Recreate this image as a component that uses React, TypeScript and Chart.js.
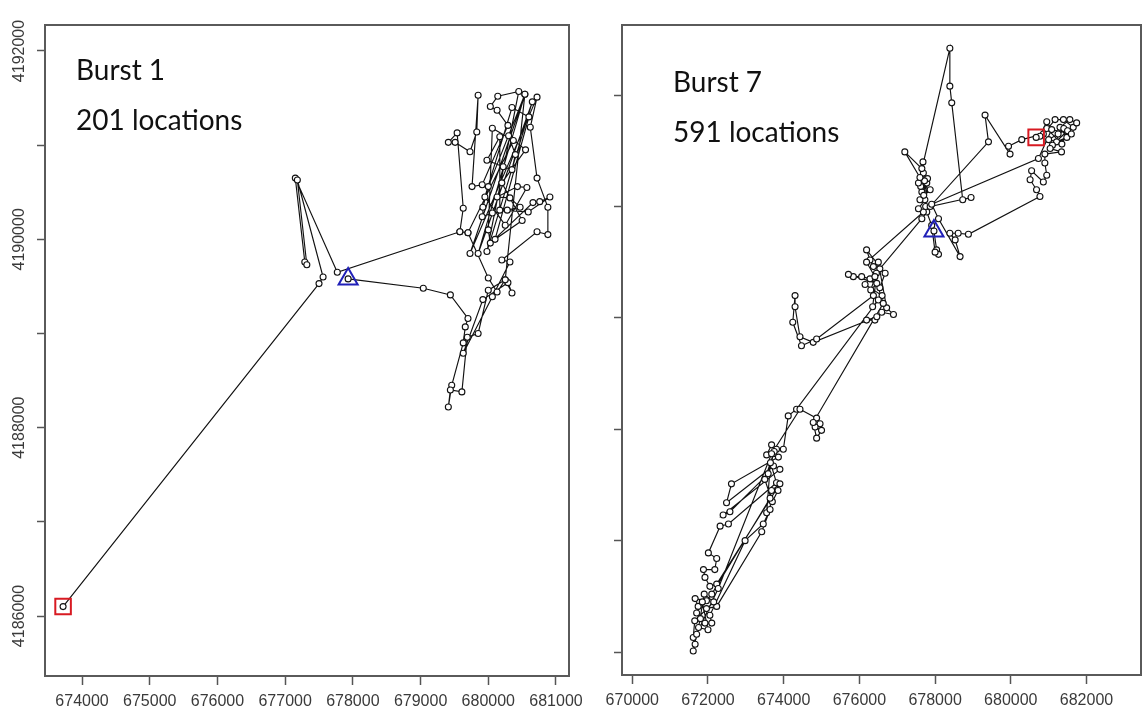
import React, { useEffect, useRef } from "react";
import { Chart, registerables } from "chart.js";

Chart.register(...registerables);

// ---------- Burst 1 ----------
const burst1X = [677930, 679040, 679440, 679700, 679660, 679630, 679460, 679410, 679440, 679610,
  679690, 679850, 680000, 680250, 680350, 680290, 679920, 679630, 680060, 680320,
  680200, 680720, 680880, 680880, 680720, 680620, 680720, 679730, 680540, 679850,
  680650, 679980, 680450, 680140, 680030, 680130, 680290, 679910, 679760, 679850,
  679830, 679730, 679510, 679410, 679540, 679630, 679580, 679700, 680370, 680060,
  680000, 680030, 680660, 680760, 680910, 680590, 680170, 680170, 679980, 680220,
  680350,
  680400, 680300, 680550, 680200, 680500, 680100, 680600, 680350, 679950, 680250,
  680570, 680430, 680130, 680320, 680470, 680280, 680060, 679910, 679920,
  680000, 680540, 680250, 680130, 680000, 679700, 679580, 677770, 677150, 677290,
  677320, 677180, 677560, 677500, 673720];
const burst1Y = [4189580, 4189480, 4189410, 4189160, 4189070, 4188900, 4188450, 4188220, 4188400, 4188380,
  4188960, 4189000, 4189460, 4189570, 4189430, 4189540, 4189360, 4188790, 4189390, 4189760,
  4189780, 4190080, 4190050, 4190340, 4190650, 4191190, 4191510, 4189850, 4191540, 4189850,
  4191460, 4189870, 4191570, 4191520, 4191410, 4191370, 4191210, 4190580, 4190560, 4191530,
  4191140, 4190930, 4191030, 4191030, 4191130, 4190330, 4190080, 4190070, 4191050, 4191180,
  4190100, 4189960, 4190390, 4190400, 4190450, 4190290, 4190310, 4191090, 4190840, 4190770,
  4190740,
  4190900, 4191100, 4190950, 4190600, 4190200, 4190000, 4191300, 4191400, 4190450, 4190150,
  4190550, 4190560, 4190450, 4190440, 4190340, 4190310, 4190280, 4190240, 4190340,
  4190560, 4191540, 4189570, 4189440, 4189590, 4190070, 4190080, 4189650, 4190650, 4189760,
  4189730, 4190630, 4189600, 4189530, 4186100];
const burst1XTicks = [674000, 675000, 676000, 677000, 678000, 679000, 680000, 681000];
const burst1YTicks = [4186000, 4187000, 4188000, 4189000, 4190000, 4191000, 4192000];
const burst1YLabels = ["4186000", "", "4188000", "", "4190000", "", "4192000"];
const burst1Text = ["Burst 1", "201 locations"];

// ---------- Burst 7 ----------
const burst7X = [677970, 678040, 678090, 678000, 677910, 677780, 677650, 676540, 676370, 676280,
  676190, 676680, 676540, 676280, 676060, 675840, 675710, 676460,
  676300, 676450, 676150, 676600, 676350, 676500,
  676720, 676900, 676590, 676410, 676190, 676460, 674780, 674430, 674300, 674300, 674240, 674470,
  674870, 676370, 676500, 674340, 674120, 673990, 673810, 673680, 673550, 673860, 672620, 672490, 673730, 673900, 672400, 672580, 673590,
  673750, 673500, 673700, 673850, 673550, 673650,
  673810, 672540, 672320, 672010, 672230, 672180, 671880, 671920, 672050, 672230, 673900, 673680, 673640, 672100, 671960, 671660, 671740, 671960, 672230, 673420, 673640, 673460, 672980, 672050, 672100, 671920,
  671800, 671700, 671850, 672000, 671750, 671900, 672150, 671650,
  671610, 671660, 671610, 671700, 672270, 673680, 674430, 674870, 674960, 674830, 675000, 674870, 674780, 676630, 676410, 676190, 677690, 677560, 677730, 677600, 677870, 677650, 677780,
  677700, 677620, 677800, 677750, 677680, 677720,
  677560, 677690, 677650, 677200, 677600, 678390, 678390, 678440, 678730, 678950, 677870, 679410, 679320, 679980, 679940, 680290, 680860, 681170, 681390, 681650, 681740, 681560, 681300, 681480, 681210,
  681000, 681250, 681400, 681100, 681500, 681350, 680950, 681600,
  681040, 681340, 680900, 680900, 680950, 680860, 680550, 680510, 680680, 680770, 678880, 678610, 678390, 678530, 678660, 678090, 677910, 680730, 681080, 680950, 680770, 680670];
const burst7Y = [4189780, 4189610, 4189570, 4189590, 4189830, 4189950, 4189890, 4189440, 4189460, 4189520,
  4189610, 4189400, 4189270, 4189350, 4189370, 4189370, 4189390, 4189310,
  4189250, 4189400, 4189300, 4189200, 4189100, 4189500,
  4189090, 4189030, 4189050, 4188980, 4188980, 4189010, 4188780, 4188830, 4189100, 4189200, 4188960, 4188750,
  4188810, 4189200, 4189160, 4188180, 4188120, 4187820, 4187820, 4187860, 4187770, 4187750, 4187510, 4187340, 4187670, 4187640, 4187230, 4187260, 4187600,
  4187800, 4187550, 4187350, 4187450, 4187250, 4187700,
  4187520, 4187150, 4187130, 4186890, 4186840, 4186740, 4186740, 4186670, 4186590, 4186610, 4187510, 4187450, 4187380, 4186520, 4186460, 4186480, 4186410, 4186390, 4186410, 4187080, 4187280, 4187150, 4187000, 4186330, 4186260, 4186260,
  4186300, 4186350, 4186450, 4186200, 4186220, 4186520, 4186450, 4186280,
  4186130, 4186070, 4186010, 4186160, 4186570, 4187780, 4188180, 4188100, 4188050, 4188020, 4187990, 4187920, 4188060, 4189130, 4189370, 4189500, 4189950, 4189980, 4190060, 4190060, 4190150, 4190130, 4190210,
  4190100, 4190180, 4190250, 4190000, 4190400, 4190230,
  4190210, 4190300, 4190340, 4190490, 4190260, 4191420, 4191080, 4190930, 4190060, 4190080, 4190000, 4190580, 4190820, 4190470, 4190540, 4190600, 4190650, 4190780, 4190780, 4190710, 4190750, 4190780, 4190710, 4190620, 4190580,
  4190600, 4190650, 4190700, 4190550, 4190680, 4190560, 4190700, 4190650,
  4190520, 4190490, 4190470, 4190390, 4190280, 4190220, 4190320, 4190240, 4190150, 4190090, 4189750, 4189760, 4189760, 4189700, 4189550, 4189890, 4190020, 4190430, 4190690, 4190760, 4190630, 4190620];
const burst7XTicks = [670000, 672000, 674000, 676000, 678000, 680000, 682000];
const burst7YTicks = [4186000, 4187000, 4188000, 4189000, 4190000, 4191000];
const burst7YLabels = ["", "", "", "", "", ""];
const burst7Text = ["Burst 7", "591 locations"];

type PanelProps = {
  xs: number[];
  ys: number[];
  xTicks: number[];
  yTicks: number[];
  yLabels: string[];
  xMin: number;
  xMax: number;
  yMin: number;
  yMax: number;
  text: string[];
  left: number;
  width: number;
  yAxisWidth: number;
  xAxisHeight: number;
  padRight: number;
  textX: number;
  textY: number;
};

const TICK_FONT = { family: "'Liberation Sans', Arial, sans-serif", size: 16 };

function Panel(p: PanelProps) {
  const ref = useRef<HTMLCanvasElement>(null);
  useEffect(() => {
    const pts = p.xs.map((x, i) => ({ x, y: p.ys[i] }));
    const framePlugin = {
      id: "frameBox",
      afterDraw(chart: any) {
        const { ctx, chartArea } = chart;
        ctx.save();
        ctx.strokeStyle = "#5a5a5a";
        ctx.lineWidth = 2;
        ctx.strokeRect(chartArea.left, chartArea.top, chartArea.right - chartArea.left, chartArea.bottom - chartArea.top);
        ctx.restore();
      },
    };
    const textPlugin = {
      id: "burstText",
      afterDraw(chart: any) {
        const { ctx } = chart;
        ctx.save();
        ctx.fillStyle = "#111";
        ctx.font = "28px Lato, 'Open Sans', sans-serif";
        ctx.textBaseline = "alphabetic";
        ctx.textAlign = "left";
        p.text.forEach((t, i) => ctx.fillText(t, p.textX, p.textY + i * 50));
        ctx.restore();
      },
    };
    const chart = new Chart(ref.current as HTMLCanvasElement, {
      type: "scatter",
      data: {
        datasets: [
          {
            data: [pts[0]],
            pointStyle: "triangle",
            pointRadius: 11,
            pointBorderColor: "#2020b8",
            pointBackgroundColor: "rgba(0,0,0,0)",
            pointBorderWidth: 2,
            showLine: false,
          },
          {
            data: [pts[pts.length - 1]],
            pointStyle: "rect",
            pointRadius: 11,
            pointBorderColor: "#d81a22",
            pointBackgroundColor: "rgba(0,0,0,0)",
            pointBorderWidth: 2,
            showLine: false,
          },
          {
            data: pts,
            showLine: true,
            borderColor: "#111111",
            borderWidth: 1.15,
            pointRadius: 3,
            pointBackgroundColor: "#ffffff",
            pointBorderColor: "#111111",
            pointBorderWidth: 1.1,
          },
        ] as any,
      },
      options: {
        animation: false,
        responsive: false,
        maintainAspectRatio: false,
        events: [],
        layout: { autoPadding: false, padding: { left: 0, right: p.padRight, top: 25, bottom: 0 } },
        plugins: { legend: { display: false }, tooltip: { enabled: false } },
        scales: {
          x: {
            type: "linear",
            min: p.xMin,
            max: p.xMax,
            afterBuildTicks: (s: any) => {
              s.ticks = p.xTicks.map((v) => ({ value: v }));
            },
            afterFit: (s: any) => {
              s.height = p.xAxisHeight;
            },
            grid: { drawOnChartArea: false, drawTicks: true, tickLength: 9, tickWidth: 1.5, tickColor: "#555" },
            border: { display: false },
            ticks: {
              autoSkip: false,
              maxRotation: 0,
              minRotation: 0,
              padding: 7,
              color: "#3a3a3a",
              font: TICK_FONT,
              callback: (v: any) => String(v),
            },
          },
          y: {
            type: "linear",
            min: p.yMin,
            max: p.yMax,
            afterBuildTicks: (s: any) => {
              s.ticks = p.yTicks.map((v) => ({ value: v }));
            },
            afterFit: (s: any) => {
              s.width = p.yAxisWidth;
            },
            grid: { drawOnChartArea: false, drawTicks: true, tickLength: 8, tickWidth: 1.5, tickColor: "#555" },
            border: { display: false },
            ticks: {
              autoSkip: false,
              minRotation: 90,
              maxRotation: 90,
              crossAlign: "center",
              padding: -14,
              color: "#3a3a3a",
              font: TICK_FONT,
              callback: (_v: any, i: number) => p.yLabels[i],
            },
          },
        },
      } as any,
      plugins: [framePlugin, textPlugin],
    });
    return () => chart.destroy();
  }, []);
  return (
    <canvas
      ref={ref}
      width={p.width}
      height={724}
      style={{ position: "absolute", left: p.left, top: 0, width: p.width, height: 724 }}
    />
  );
}

export default function App() {
  return (
    <div style={{ position: "absolute", left: 0, top: 0, width: 1145, height: 724, background: "#fff", overflow: "hidden" }}>
      <Panel
        xs={burst1X}
        ys={burst1Y}
        xTicks={burst1XTicks}
        yTicks={burst1YTicks}
        yLabels={burst1YLabels}
        xMin={673453}
        xMax={681192}
        yMin={4185363}
        yMax={4192276}
        text={burst1Text}
        left={0}
        width={600}
        yAxisWidth={45}
        xAxisHeight={48}
        padRight={31}
        textX={76}
        textY={80}
      />
      <Panel
        xs={burst7X}
        ys={burst7Y}
        xTicks={burst7XTicks}
        yTicks={burst7YTicks}
        yLabels={burst7YLabels}
        xMin={669728}
        xMax={683440}
        yMin={4185794}
        yMax={4191629}
        text={burst7Text}
        left={580}
        width={565}
        yAxisWidth={42}
        xAxisHeight={49}
        padRight={4}
        textX={93}
        textY={92}
      />
    </div>
  );
}
